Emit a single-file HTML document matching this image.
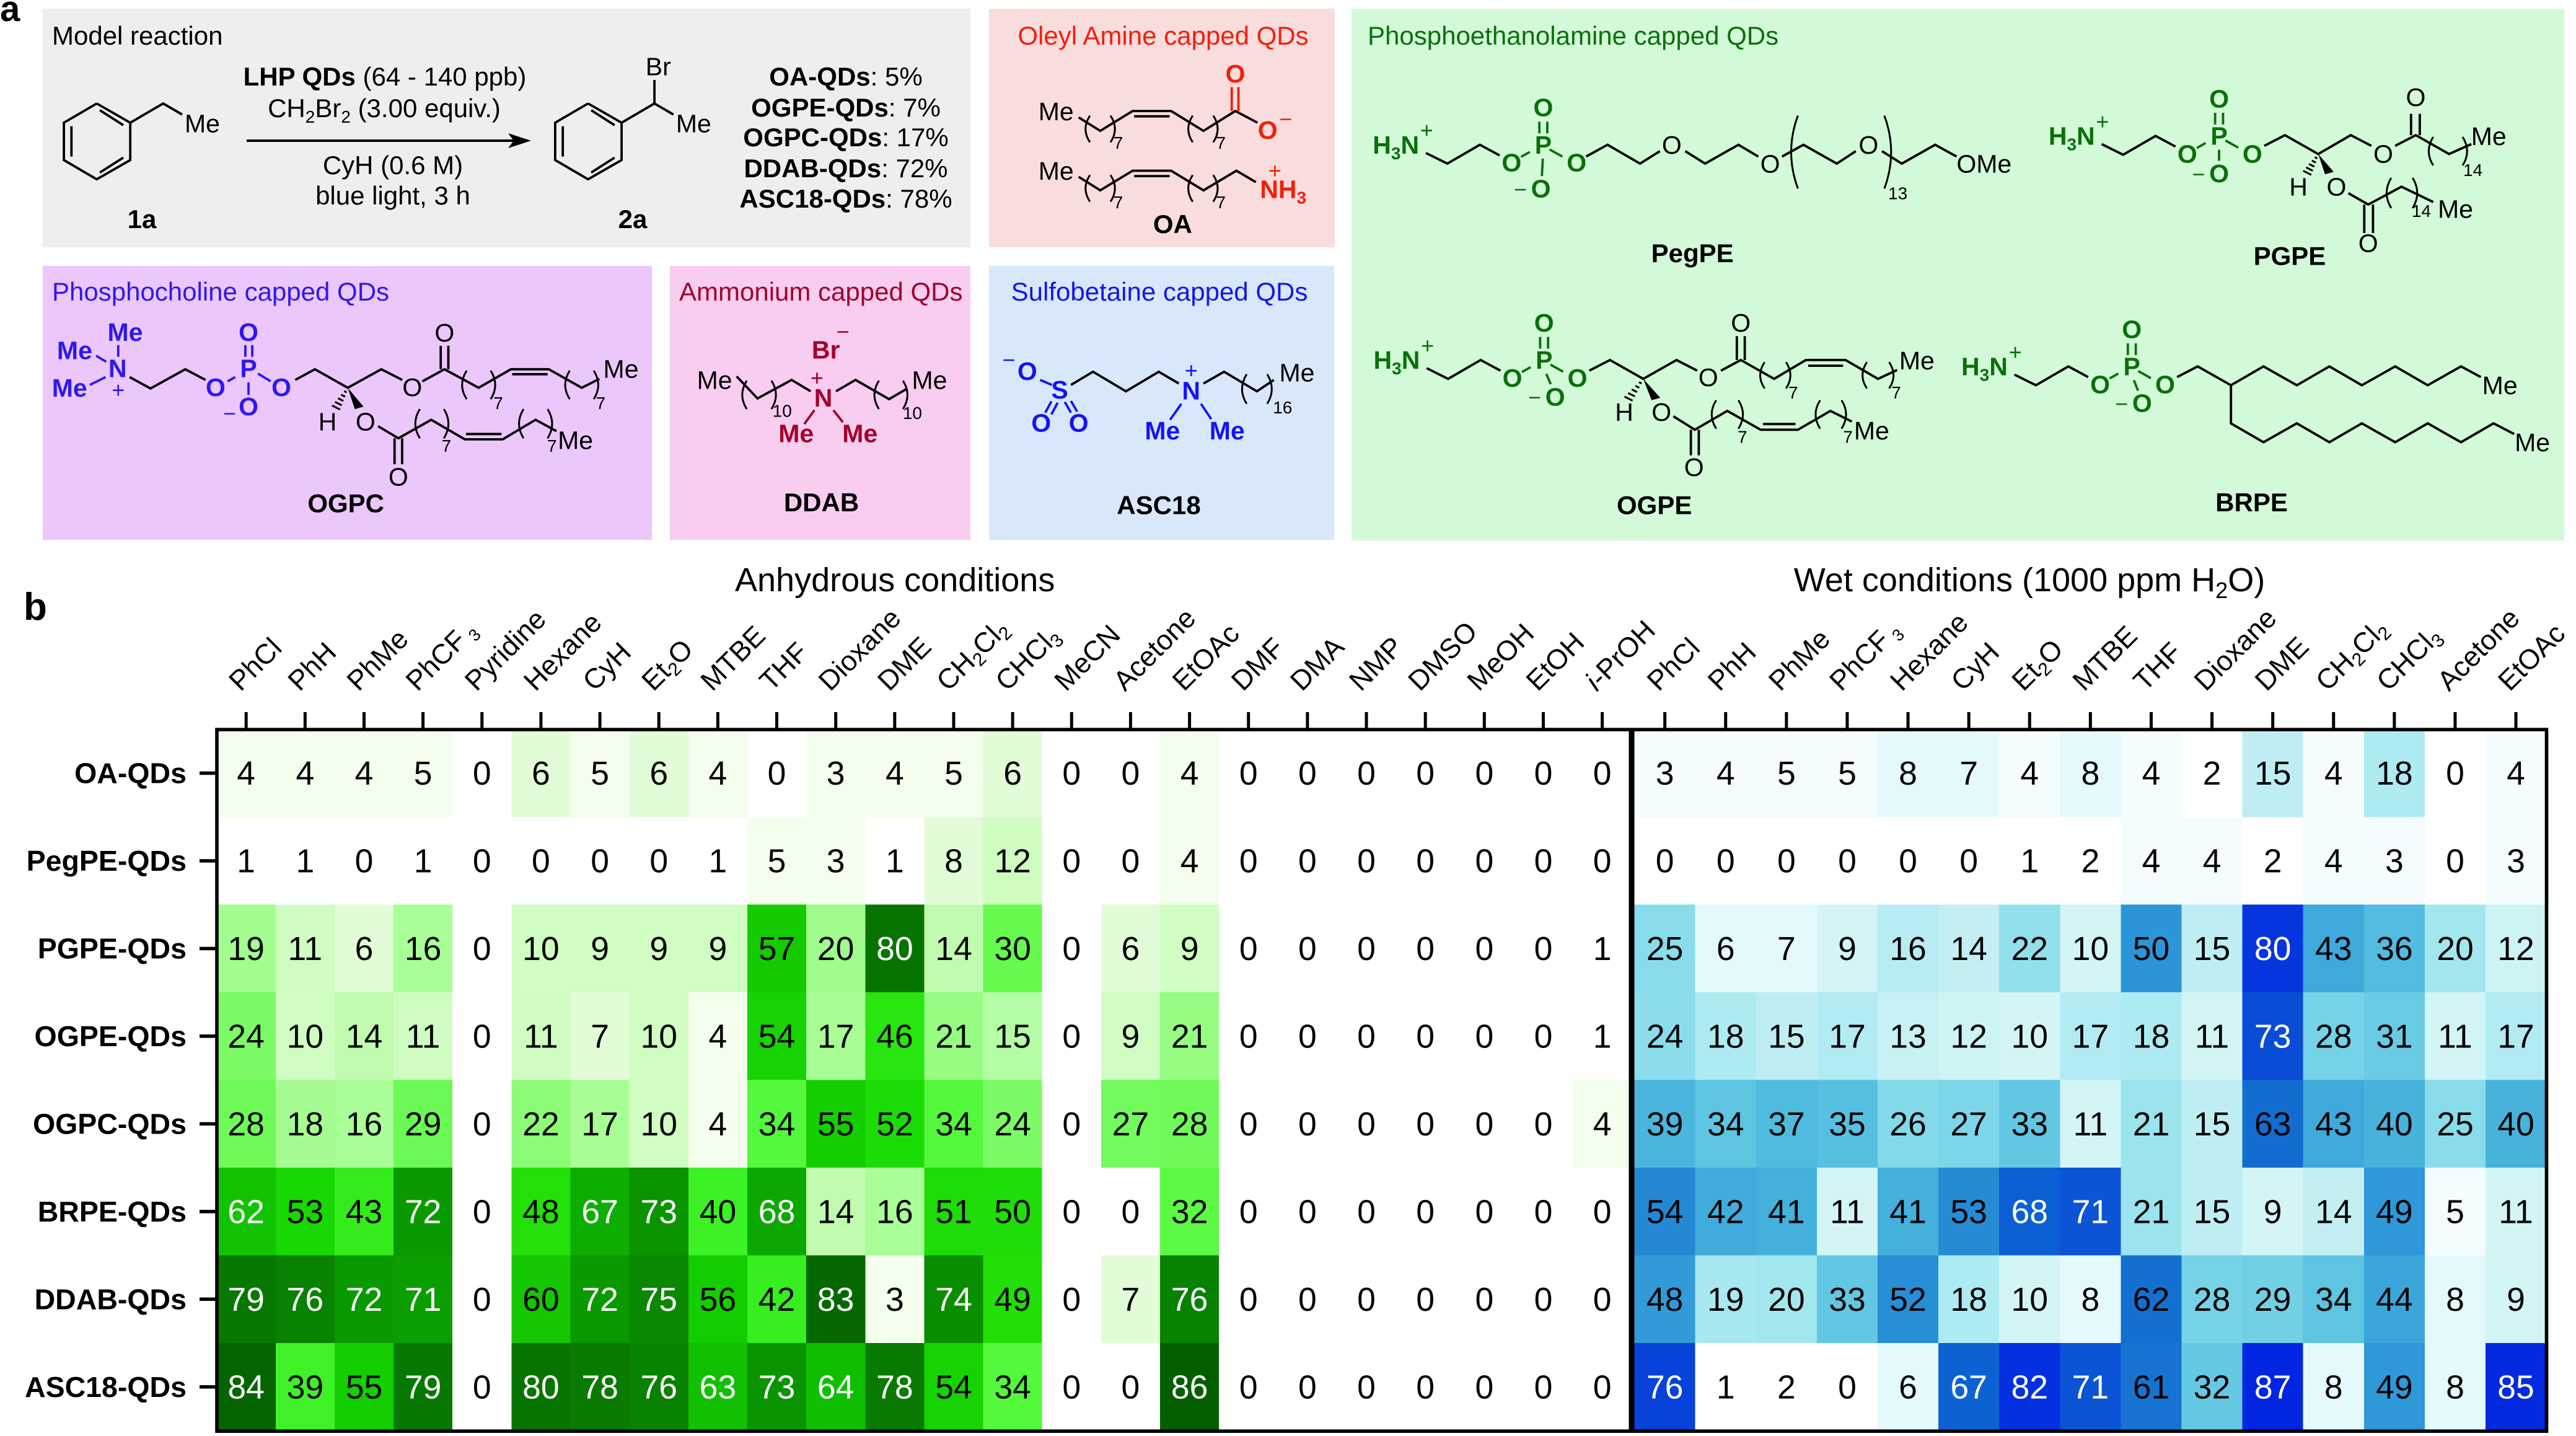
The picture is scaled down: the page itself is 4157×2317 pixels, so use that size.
<!DOCTYPE html>
<html lang="en">
<head>
<meta charset="utf-8">
<title>QD solvent screening</title>
<style>
html,body{margin:0;padding:0;background:#fff}
svg{display:block;font-family:"Liberation Sans",Arial,sans-serif}
</style>
</head>
<body>
<svg id="fig" xmlns="http://www.w3.org/2000/svg" width="4157" height="2317" viewBox="0 0 4157 2317">
  <g>
    <rect x="69" y="14" width="1497" height="385" fill="#eeeeee"/>
    <rect x="1596" y="14" width="558" height="385" fill="#f9dcdc"/>
    <rect x="2181" y="14" width="1957" height="858" fill="#d2f9d8"/>
    <rect x="69" y="429" width="983" height="442" fill="#ebc7fb"/>
    <rect x="1081" y="429" width="485" height="442" fill="#f8cdf0"/>
    <rect x="1596" y="429" width="557" height="442" fill="#d9e7fb"/>
  </g>
  <text x="0" y="34" font-size="58" font-weight="bold">a</text>
  <text x="38" y="1000" font-size="62" font-weight="bold">b</text>

  <g font-size="42">
    <text x="84" y="72">Model reaction</text>
    <text x="1877" y="72" text-anchor="middle" fill="#f21f0d">Oleyl Amine capped QDs</text>
    <text x="2207" y="72" fill="#0a700a">Phosphoethanolamine capped QDs</text>
    <text x="84" y="485" fill="#2d18f2">Phosphocholine capped QDs</text>
    <text x="1096" y="485" fill="#a3002a">Ammonium capped QDs</text>
    <text x="1871" y="485" text-anchor="middle" fill="#1414f5">Sulfobetaine capped QDs</text>
  </g>

  <g font-size="42" text-anchor="middle">
    <text x="621" y="138"><tspan font-weight="bold">LHP QDs</tspan> (64 - 140 ppb)</text>
    <text x="620" y="189">CH<tspan font-size="28" dy="9">2</tspan><tspan dy="-9">Br</tspan><tspan font-size="28" dy="9">2</tspan><tspan dy="-9"> (3.00 equiv.)</tspan></text>
    <text x="634" y="281">CyH (0.6 M)</text>
    <text x="634" y="330">blue light, 3 h</text>
    <text x="229" y="368" font-weight="bold">1a</text>
    <text x="1021" y="368" font-weight="bold">2a</text>
  </g>
  <g>
    <line x1="398" y1="227" x2="835" y2="227" stroke="#000" stroke-width="4"/>
    <polygon points="857,227 820,215 829,227 820,239" fill="#000"/>
  </g>
  <g font-size="42" text-anchor="middle">
    <text x="1365" y="138"><tspan font-weight="bold">OA-QDs</tspan>: 5%</text>
    <text x="1365" y="188"><tspan font-weight="bold">OGPE-QDs</tspan>: 7%</text>
    <text x="1365" y="236"><tspan font-weight="bold">OGPC-QDs</tspan>: 17%</text>
    <text x="1365" y="286"><tspan font-weight="bold">DDAB-QDs</tspan>: 72%</text>
    <text x="1365" y="335"><tspan font-weight="bold">ASC18-QDs</tspan>: 78%</text>
  </g>

  <g id="molecules"></g>

  <text x="1186" y="954" font-size="54">Anhydrous conditions</text>
  <text x="3275" y="954" font-size="54" text-anchor="middle">Wet conditions (1000 ppm H<tspan font-size="36" dy="11">2</tspan><tspan dy="-11">O)</tspan></text>

  <g id="heatmap"></g>
</svg>

<script>
// ---------- chart data ----------
const rowLabels = ["OA-QDs","PegPE-QDs","PGPE-QDs","OGPE-QDs","OGPC-QDs","BRPE-QDs","DDAB-QDs","ASC18-QDs"];
const anhydrousSolvents = ["PhCl","PhH","PhMe","PhCF3","Pyridine","Hexane","CyH","Et2O","MTBE","THF","Dioxane","DME","CH2Cl2","CHCl3","MeCN","Acetone","EtOAc","DMF","DMA","NMP","DMSO","MeOH","EtOH","i-PrOH"];
const wetSolvents = ["PhCl","PhH","PhMe","PhCF3","Hexane","CyH","Et2O","MTBE","THF","Dioxane","DME","CH2Cl2","CHCl3","Acetone","EtOAc"];
const anhydrousValues = [
  [4,4,4,5,0,6,5,6,4,0,3,4,5,6,0,0,4,0,0,0,0,0,0,0],
  [1,1,0,1,0,0,0,0,1,5,3,1,8,12,0,0,4,0,0,0,0,0,0,0],
  [19,11,6,16,0,10,9,9,9,57,20,80,14,30,0,6,9,0,0,0,0,0,0,1],
  [24,10,14,11,0,11,7,10,4,54,17,46,21,15,0,9,21,0,0,0,0,0,0,1],
  [28,18,16,29,0,22,17,10,4,34,55,52,34,24,0,27,28,0,0,0,0,0,0,4],
  [62,53,43,72,0,48,67,73,40,68,14,16,51,50,0,0,32,0,0,0,0,0,0,0],
  [79,76,72,71,0,60,72,75,56,42,83,3,74,49,0,7,76,0,0,0,0,0,0,0],
  [84,39,55,79,0,80,78,76,63,73,64,78,54,34,0,0,86,0,0,0,0,0,0,0]
];
const wetValues = [
  [3,4,5,5,8,7,4,8,4,2,15,4,18,0,4],
  [0,0,0,0,0,0,1,2,4,4,2,4,3,0,3],
  [25,6,7,9,16,14,22,10,50,15,80,43,36,20,12],
  [24,18,15,17,13,12,10,17,18,11,73,28,31,11,17],
  [39,34,37,35,26,27,33,11,21,15,63,43,40,25,40],
  [54,42,41,11,41,53,68,71,21,15,9,14,49,5,11],
  [48,19,20,33,52,18,10,8,62,28,29,34,44,8,9],
  [76,1,2,0,6,67,82,71,61,32,87,8,49,8,85]
];
// colour ramps: value -> rgb
const greenRamp = [[0,255,255,255],[2,255,255,255],[3,243,254,236],[5,243,254,236],[6,226,252,216],[8,226,252,216],[9,208,253,194],[12,207,253,192],[14,192,251,175],[16,170,254,152],[20,160,252,140],[22,141,251,120],[24,124,251,102],[28,112,250,90],[32,92,250,68],[39,63,242,39],[43,52,236,28],[48,34,224,8],[52,28,220,5],[55,20,206,0],[60,20,199,0],[64,16,190,0],[68,12,168,0],[72,10,154,0],[76,8,130,0],[80,7,116,0],[86,3,94,0]];
const blueRamp = [[0,255,255,255],[2,255,255,255],[3,244,252,254],[5,244,252,254],[6,228,249,252],[8,228,249,252],[9,211,245,246],[11,211,245,246],[14,195,239,243],[17,179,235,244],[20,163,231,238],[22,146,224,236],[25,136,220,236],[28,118,210,230],[33,98,199,226],[36,82,189,224],[40,71,179,220],[43,62,169,218],[49,46,152,216],[54,36,136,212],[62,20,112,208],[68,12,95,212],[73,9,76,214],[80,5,53,223],[87,2,37,226]];

// ---------- svg helper ----------
const NS = "http://www.w3.org/2000/svg";
function mk(tag, attrs, parent, name) {
  const el = document.createElementNS(NS, tag);
  for (const k in attrs) el.setAttribute(k, attrs[k]);
  
  
  parent.appendChild(el);
  return el;
}
// "CH_2_Cl_2_" renders odd segments as subscript
function fillText(el, str, subSize, shift) {
  const parts = str.split('_');
  let pending = 0;
  parts.forEach((s, i) => {
    if (!s) return;
    const ts = document.createElementNS(NS, 'tspan');
    let dy = -pending;
    pending = 0;
    if (i % 2) { ts.setAttribute('font-size', subSize); dy += shift; pending = shift; }
    if (dy) ts.setAttribute('dy', dy);
    ts.textContent = s;
    el.appendChild(ts);
  });
}
function slug(s) { return s.toLowerCase().replace(/[^a-z0-9]+/g, '-'); }

// ---------- heatmap ----------
const hm = document.getElementById('heatmap');
const rowTop = 1176.8, rowStep = 141.46, plotBottom = 2307;
const rowY = j => rowTop + rowStep * j;
const anhLeft = 349.6, anhStep = 95.15;
const anhX = i => anhLeft + anhStep * i;
const wetLeft = 2637.6, wetStep = 98.1;
const wetX = i => wetLeft + wetStep * i;

function rampColor(ramp, v) {
  let a = ramp[0], b = ramp[ramp.length - 1];
  for (let i = 0; i < ramp.length - 1; i++) {
    if (v >= ramp[i][0] && v <= ramp[i + 1][0]) { a = ramp[i]; b = ramp[i + 1]; break; }
  }
  if (v > ramp[ramp.length - 1][0]) a = b;
  const t = a === b ? 0 : (v - a[0]) / (b[0] - a[0]);
  const c = n => Math.round(a[n] + (b[n] - a[n]) * t);
  return `rgb(${c(1)},${c(2)},${c(3)})`;
}
function drawBlock(prefix, values, labels, xf, step, ramp, whiteAt, labelOffset) {
  const g = mk('g', {}, hm, prefix + '-cells');
  values.forEach((row, j) => {
    row.forEach((v, i) => {
      const x = xf(i), y = rowY(j);
      const h = Math.min(rowStep, plotBottom - y);
      mk('rect', {x: x, y: y, width: step + 0.5, height: h + 0.5, fill: rampColor(ramp, v), 'shape-rendering': 'crispEdges'}, g, prefix + '-cell-' + slug(rowLabels[j]) + '-' + slug(labels[i]));
      const t = mk('text', {x: x + step / 2, y: y + rowStep / 2 + 18.6, 'font-size': 53.5, 'text-anchor': 'middle', fill: v >= whiteAt ? '#fff' : '#000'}, g, prefix + '-value');
      t.textContent = v;
    });
  });
  labels.forEach((lab, i) => {
    const cx = xf(i) + step / 2;
    mk('line', {x1: cx, x2: cx, y1: 1149, y2: 1176, stroke: '#000', 'stroke-width': 5}, hm, prefix + '-x-tick');
    const t = mk('text', {transform: `translate(${cx + labelOffset},1117) rotate(-45)`, 'font-size': 45}, hm, prefix + '-solvent-label-' + slug(lab));
    if (lab === 'PhCF3') {
      const a = document.createElementNS(NS, 'tspan'); a.textContent = 'PhCF'; t.appendChild(a);
      const b = document.createElementNS(NS, 'tspan'); b.textContent = '3'; b.setAttribute('font-size', 27); b.setAttribute('dx', 8); b.setAttribute('dy', 9); t.appendChild(b);
    } else if (lab === 'i-PrOH') {
      const a = document.createElementNS(NS, 'tspan'); a.textContent = 'i'; a.setAttribute('font-style', 'italic'); t.appendChild(a);
      const b = document.createElementNS(NS, 'tspan'); b.textContent = '-PrOH'; t.appendChild(b);
    } else {
      fillText(t, lab.replace(/(H|Cl|t)([23])/g, '$1_$2_'), 30, 8);
    }
  });
}
drawBlock('anhydrous', anhydrousValues, anhydrousSolvents, anhX, anhStep, greenRamp, 61, -9);
drawBlock('wet', wetValues, wetSolvents, wetX, wetStep, blueRamp, 65, -10);

rowLabels.forEach((lab, j) => {
  const cy = rowY(j) + rowStep / 2;
  mk('line', {x1: 322, x2: 350, y1: cy, y2: cy, stroke: '#000', 'stroke-width': 5.5}, hm, 'y-tick');
  const t = mk('text', {x: 301, y: cy + 16, 'font-size': 46.5, 'font-weight': 'bold', 'text-anchor': 'end'}, hm, 'row-label-' + slug(lab));
  t.textContent = lab;
});
mk('rect', {x: 350, y: 1177.2, width: 3759.5, height: 1132, fill: 'none', stroke: '#000', 'stroke-width': 5.6}, hm, 'plot-frame');
mk('line', {x1: 2633, x2: 2633, y1: 1177, y2: 2310, stroke: '#000', 'stroke-width': 9}, hm, 'conditions-divider');

// ---------- chemistry drawings ----------
const F1 = (x, y) => [x * 1.0204, y * .574];
const F2 = (x, y) => [1550 + x * .829, y * .574];
const F3 = (x, y) => [2150 + x * 1.28, y * .574];
const molRoot = document.getElementById('molecules');
function group(name) { return mk('g', {}, molRoot, name); }
function bonds(g, f, arr, col) {
  const pts = [];
  for (let i = 0; i < arr.length; i += 2) pts.push(f(arr[i], arr[i + 1]).map(n => n.toFixed(1)).join(','));
  mk('polyline', {points: pts.join(' '), fill: 'none', stroke: col || '#000', 'stroke-width': 3.8, 'stroke-linejoin': 'miter'}, g, 'bond');
}
function atom(g, f, x, y, s, col, bold, size, anchor) {
  const p = f(x, y);
  const t = mk('text', {x: p[0], y: p[1], 'font-size': size || 41, 'text-anchor': anchor || 'middle', fill: col || '#000', 'font-weight': bold ? 'bold' : 'normal'}, g, 'atom-label');
  fillText(t, s, 28, 9);
}
function charge(g, f, x, yc, s, col) {
  const p = f(x, yc);
  const t = mk('text', {x: p[0], y: p[1] + 12, 'font-size': 36, 'text-anchor': 'middle', fill: col || '#000'}, g, 'charge-label');
  t.textContent = s;
}
function repeat(g, f, xl, xr, y0, y1, n, nx, ny) {
  [[xl, -1], [xr, 1]].forEach(([x, d]) => {
    const a = f(x, y0), b = f(x, y1);
    const c = 10 + 0.1 * (b[1] - a[1]);
    mk('path', {d: `M${a[0]} ${a[1]}Q${a[0] + d * c} ${(a[1] + b[1]) / 2} ${b[0]} ${b[1]}`, fill: 'none', stroke: '#000', 'stroke-width': 3}, g, 'repeat-bracket');
  });
  atom(g, f, nx, ny, String(n), '#000', false, 28);
}
function stereo(g, f, cx, cy, wx, wy, hx, hy) {
  const c = f(cx, cy), w = f(wx, wy), h = f(hx, hy);
  mk('polygon', {points: `${c[0]},${c[1]} ${w[0] - 7},${w[1]} ${w[0] + 7},${w[1] - 4}`, fill: '#000'}, g, 'wedge-bond');
  for (let i = 1; i <= 5; i++) {
    const t = i / 5.4, x = c[0] + (h[0] - c[0]) * t, y = c[1] + (h[1] - c[1]) * t, d = 1 + 6 * t;
    mk('line', {x1: x - d, y1: y - d * .5, x2: x + d, y2: y + d * .5, stroke: '#000', 'stroke-width': 3}, g, 'hash-bond');
  }
}
function benzene(g, f, dx, dy) {
  bonds(g, f, [dx+153,dy+291, dx+206,dy+345, dx+206,dy+450, dx+153,dy+504, dx+101,dy+450, dx+101,dy+345, dx+153,dy+291]);
  bonds(g, f, [dx+113,dy+355, dx+113,dy+440]);
  bonds(g, f, [dx+158,dy+310, dx+195,dy+352]);
  bonds(g, f, [dx+158,dy+485, dx+195,dy+443]);
}

// substrate and product
let g = group('substrate-1a');
benzene(g, F1, 0, 0);
bonds(g, F1, [206,345, 258,291, 288,322]);
atom(g, F1, 320, 372, 'Me');
g = group('product-2a');
benzene(g, F1, 777, 0);
bonds(g, F1, [983,345, 1035,291, 1065,322]);
bonds(g, F1, [1035,291, 1035,225]);
atom(g, F1, 1097, 372, 'Me');
atom(g, F1, 1041, 212, 'Br');

// OGPC
const purple = '#2d18f2';
g = group('ogpc-structure');
atom(g, F1, 198, 958, 'Me', purple, 1); atom(g, F1, 118, 1010, 'Me', purple, 1);
atom(g, F1, 186, 1060, 'N', purple, 1); atom(g, F1, 110, 1115, 'Me', purple, 1);
charge(g, F1, 187, 1097, '+', purple);
bonds(g, F1, [187,970, 187,1003], purple); bonds(g, F1, [152,1000, 168,1017], purple); bonds(g, F1, [142,1082, 167,1060], purple);
bonds(g, F1, [205,1060, 238,1092, 293,1038, 325,1068]);
atom(g, F1, 341, 1113, 'O', purple, 1); atom(g, F1, 393, 1060, 'P', purple, 1);
atom(g, F1, 393, 958, 'O', purple, 1); atom(g, F1, 393, 1167, 'O', purple, 1);
atom(g, F1, 445, 1113, 'O', purple, 1); charge(g, F1, 363, 1163, '−', purple);
bonds(g, F1, [360,1072, 372,1060], purple); bonds(g, F1, [408,1050, 428,1072], purple);
bonds(g, F1, [388,970, 388,1003], purple); bonds(g, F1, [399,970, 399,1003], purple); bonds(g, F1, [393,1075, 393,1110], purple);
bonds(g, F1, [467,1068, 498,1038, 550,1090, 603,1038, 636,1068]);
atom(g, F1, 652, 1113, 'O');
bonds(g, F1, [668,1072, 703,1038, 757,1090, 808,1038, 868,1038, 920,1090, 948,1065]);
bonds(g, F1, [810,1052, 866,1052]);
bonds(g, F1, [697,1038, 697,972]); bonds(g, F1, [709,1038, 709,972]);
atom(g, F1, 703, 960, 'O'); atom(g, F1, 982, 1062, 'Me');
repeat(g, F1, 738, 776, 1042, 1122, 7, 788, 1150);
repeat(g, F1, 901, 939, 1042, 1122, 7, 950, 1150);
stereo(g, F1, 550, 1090, 568, 1150, 530, 1150);
atom(g, F1, 518, 1210, 'H'); atom(g, F1, 578, 1210, 'O');
bonds(g, F1, [598,1198, 630,1232, 682,1180, 735,1235, 795,1235, 847,1180, 880,1212]);
bonds(g, F1, [737,1220, 793,1220]);
bonds(g, F1, [624,1232, 624,1305]); bonds(g, F1, [636,1232, 636,1305]);
atom(g, F1, 630, 1365, 'O'); atom(g, F1, 910, 1262, 'Me');
repeat(g, F1, 664, 702, 1150, 1232, 7, 706, 1270);
repeat(g, F1, 828, 866, 1150, 1232, 7, 873, 1270);
atom(g, F1, 547, 1440, 'OGPC', '#000', 1, 42);

// DDAB
const crimson = '#a3002a';
g = group('ddab-structure');
atom(g, F1, 1306, 1008, 'Br', crimson, 1); charge(g, F1, 1333, 933, '−', crimson);
atom(g, F1, 1302, 1143, 'N', crimson, 1); charge(g, F1, 1292, 1063, '+', crimson);
atom(g, F1, 1130, 1093, 'Me'); atom(g, F1, 1470, 1093, 'Me');
atom(g, F1, 1259, 1243, 'Me', crimson, 1); atom(g, F1, 1360, 1243, 'Me', crimson, 1);
bonds(g, F1, [1165,1058, 1198,1120, 1252,1068, 1282,1100]);
bonds(g, F1, [1322,1100, 1353,1068, 1406,1122, 1435,1092]);
bonds(g, F1, [1288,1153, 1272,1192], crimson); bonds(g, F1, [1318,1153, 1333,1187], crimson);
repeat(g, F1, 1181, 1220, 1070, 1150, 10, 1237, 1172);
repeat(g, F1, 1390, 1428, 1070, 1150, 10, 1443, 1178);
atom(g, F1, 1299, 1437, 'DDAB', '#000', 1, 42);

// OA
const red = '#f21f0d';
g = group('oa-structure');
atom(g, F2, 186, 338, 'Me'); atom(g, F2, 186, 505, 'Me');
bonds(g, F2, [230,330, 272,368, 335,312, 410,312, 473,368, 535,312, 578,345]);
bonds(g, F2, [338,327, 407,327]);
bonds(g, F2, [528,312, 528,245], red); bonds(g, F2, [541,312, 541,245], red);
atom(g, F2, 535, 232, 'O', red, 1); atom(g, F2, 598, 390, 'O', red, 1); charge(g, F2, 633, 335, '−', red);
repeat(g, F2, 252, 292, 325, 400, 7, 307, 418);
repeat(g, F2, 452, 492, 325, 400, 7, 507, 418);
bonds(g, F2, [230,497, 272,535, 335,480, 410,480, 473,535, 537,480, 575,512]);
bonds(g, F2, [338,495, 407,495]);
repeat(g, F2, 252, 292, 492, 567, 7, 307, 585);
repeat(g, F2, 452, 492, 492, 567, 7, 507, 585);
atom(g, F2, 583, 557, 'NH_3_', red, 1, 41, 'start'); charge(g, F2, 612, 480, '+', red);
atom(g, F2, 413, 655, 'OA', '#000', 1, 42);

// ASC18
const azure = '#1414f5';
g = group('asc18-structure');
charge(g, F2, 94, 1012, '−', azure);
atom(g, F2, 130, 1068, 'O', azure, 1); atom(g, F2, 193, 1120, 'S', azure, 1);
atom(g, F2, 157, 1213, 'O', azure, 1); atom(g, F2, 230, 1213, 'O', azure, 1);
bonds(g, F2, [155,1068, 178,1082], azure);
bonds(g, F2, [165,1160, 177,1128], azure); bonds(g, F2, [177,1165, 189,1132], azure);
bonds(g, F2, [203,1130, 215,1160], azure); bonds(g, F2, [215,1127, 227,1157], azure);
bonds(g, F2, [215,1082, 258,1045, 322,1100, 386,1045, 425,1078]);
atom(g, F2, 449, 1123, 'N', azure, 1); charge(g, F2, 449, 1042, '+', azure);
bonds(g, F2, [473,1078, 513,1045, 577,1100, 610,1068]);
atom(g, F2, 655, 1072, 'Me'); repeat(g, F2, 557, 597, 1052, 1135, 16, 627, 1162);
atom(g, F2, 393, 1235, 'Me', azure, 1); atom(g, F2, 519, 1235, 'Me', azure, 1);
bonds(g, F2, [430,1135, 408,1180], azure); bonds(g, F2, [468,1135, 488,1178], azure);
atom(g, F2, 386, 1445, 'ASC18', '#000', 1, 42);

// phosphoethanolamine head group shared by the four green structures
const grn = '#0a700a';
function head(g, x, y, oBelowX, oBelowY) {
  // x,y = first carbon after N+
  atom(g, F3, x - 67, y + 2, 'H_3_N', grn, 1, 41, 'start');
  charge(g, F3, x + 1, y - 63, '+', grn);
  bonds(g, F3, [x,y, x+27,y+30, x+68,y-23, x+93,y+7]);
  atom(g, F3, x + 108, y + 52, 'O', grn, 1);
  atom(g, F3, x + 148, y + 2, 'P', grn, 1);
  atom(g, F3, x + 148, y - 103, 'O', grn, 1);
  atom(g, F3, oBelowX, oBelowY, 'O', grn, 1);
  charge(g, F3, oBelowX - 26, oBelowY - 22, '−', grn);
  atom(g, F3, x + 190, y + 52, 'O', grn, 1);
  bonds(g, F3, [x+120,y+11, x+131,y-3], grn); bonds(g, F3, [x+156,y-10, x+172,y+10], grn);
  bonds(g, F3, [x+143,y-88, x+143,y-55], grn); bonds(g, F3, [x+153,y-88, x+153,y-55], grn);
  const bx = oBelowX - (x + 148);
  bonds(g, F3, [x+148+bx*.2,y+16, x+148+bx*.6,oBelowY-60], grn);
}

// PegPE
g = group('pegpe-structure');
head(g, 118, 430, 263, 555);
bonds(g, F3, [320,440, 347,407, 388,460, 413,425]);
atom(g, F3, 428, 432, 'O');
bonds(g, F3, [445,425, 470,460, 512,407, 537,440]);
atom(g, F3, 552, 485, 'O');
bonds(g, F3, [567,440, 594,407, 636,460, 660,425]);
atom(g, F3, 676, 432, 'O');
bonds(g, F3, [693,425, 718,460, 760,407, 787,440]);
atom(g, F3, 787, 485, 'OMe', '#000', 0, 41, 'start');
repeat(g, F3, 587, 696, 325, 530, 13, 713, 560);
atom(g, F3, 454, 737, 'PegPE', '#000', 1, 42);

// PGPE
g = group('pgpe-structure');
head(g, 970, 405, 1118, 512);
bonds(g, F3, [1175,410, 1201,380, 1243,433, 1284,380, 1310,410]);
atom(g, F3, 1325, 457, 'O');
bonds(g, F3, [1340,410, 1366,380, 1408,433, 1436,405]);
atom(g, F3, 1458, 408, 'Me');
bonds(g, F3, [1360,380, 1360,320]); bonds(g, F3, [1371,380, 1371,320]);
atom(g, F3, 1366, 298, 'O');
repeat(g, F3, 1388, 1425, 385, 465, 14, 1438, 495);
stereo(g, F3, 1243, 433, 1257, 490, 1228, 490);
atom(g, F3, 1218, 550, 'H'); atom(g, F3, 1266, 550, 'O');
bonds(g, F3, [1281,543, 1306,575, 1348,525, 1388,568]);
bonds(g, F3, [1301,575, 1301,655]); bonds(g, F3, [1312,575, 1312,655]);
atom(g, F3, 1306, 708, 'O'); atom(g, F3, 1416, 612, 'Me');
repeat(g, F3, 1335, 1362, 500, 585, 14, 1373, 610);
atom(g, F3, 1207, 745, 'PGPE', '#000', 1, 42);

// OGPE
g = group('ogpe-structure');
head(g, 119, 1035, 281, 1140);
bonds(g, F3, [324,1042, 350,1012, 392,1065, 434,1012, 460,1042]);
atom(g, F3, 474, 1085, 'O');
bonds(g, F3, [490,1042, 515,1012, 557,1065, 597,1012, 647,1012, 688,1065, 712,1040]);
bonds(g, F3, [600,1028, 644,1028]);
bonds(g, F3, [510,1012, 510,945]); bonds(g, F3, [520,1012, 520,945]);
atom(g, F3, 515, 932, 'O'); atom(g, F3, 737, 1038, 'Me');
repeat(g, F3, 545, 572, 1018, 1092, 7, 581, 1120);
repeat(g, F3, 674, 702, 1018, 1092, 7, 711, 1120);
stereo(g, F3, 392, 1065, 408, 1125, 372, 1125);
atom(g, F3, 368, 1183, 'H'); atom(g, F3, 415, 1183, 'O');
bonds(g, F3, [430,1170, 457,1208, 498,1155, 540,1208, 587,1208, 628,1155, 655,1185]);
bonds(g, F3, [543,1192, 584,1192]);
bonds(g, F3, [452,1208, 452,1280]); bonds(g, F3, [462,1208, 462,1280]);
atom(g, F3, 456, 1338, 'O'); atom(g, F3, 680, 1235, 'Me');
repeat(g, F3, 484, 512, 1125, 1205, 7, 517, 1245);
repeat(g, F3, 615, 642, 1125, 1205, 7, 650, 1245);
atom(g, F3, 406, 1445, 'OGPE', '#000', 1, 42);

// BRPE
g = group('brpe-structure');
head(g, 860, 1053, 1021, 1158);
bonds(g, F3, [1065,1060, 1091,1030, 1133,1083, 1174,1030, 1216,1083, 1257,1030, 1298,1083, 1340,1030, 1381,1083, 1423,1030, 1448,1060]);
atom(g, F3, 1472, 1108, 'Me');
bonds(g, F3, [1133,1083, 1133,1190, 1174,1243, 1216,1190, 1257,1243, 1298,1190, 1340,1243, 1381,1190, 1423,1243, 1464,1190, 1490,1220]);
atom(g, F3, 1513, 1268, 'Me');
atom(g, F3, 1159, 1437, 'BRPE', '#000', 1, 42);
</script>
</body>
</html>
